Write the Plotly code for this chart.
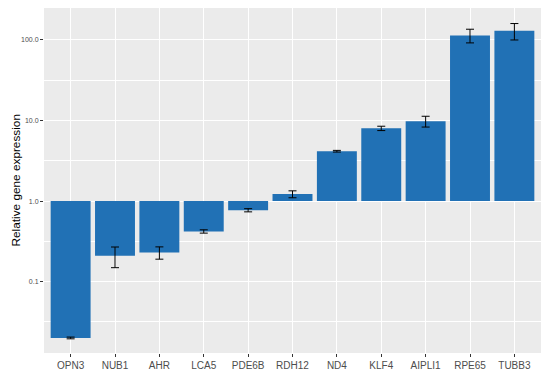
import plotly.graph_objects as go

genes = ["OPN3", "NUB1", "AHR", "LCA5", "PDE6B", "RDH12", "ND4", "KLF4", "AIPLI1", "RPE65", "TUBB3"]
expression = [0.020, 0.209, 0.23, 0.42, 0.77, 1.22, 4.16, 8.0, 9.8, 114.0, 130.0]
error = [0.0005, 0.06, 0.04, 0.02, 0.035, 0.12, 0.1, 0.5, 1.5, 22.0, 30.0]

ytick_vals = [0.1, 1, 10, 100]
ytick_text = ["0.1", "1.0", "10.0", "100.0"]
minor_vals = [10 ** -1.5, 10 ** -0.5, 10 ** 0.5, 10 ** 1.5]

base = 1.0
fig = go.Figure()
fig.add_trace(go.Bar(
    x=genes,
    y=[v - base for v in expression],
    base=base,
    marker=dict(color="#2171B5", line=dict(width=0)),
    width=0.9,
    showlegend=False,
    hoverinfo="skip",
))
fig.add_trace(go.Scatter(
    x=genes,
    y=expression,
    mode="markers",
    marker=dict(size=0.1, color="rgba(0,0,0,0)"),
    error_y=dict(type="data", array=error, visible=True, color="black", thickness=1, width=4),
    showlegend=False,
    hoverinfo="skip",
))

# page body has an 8px default margin, so the figure is offset by (8, 8)
fig.update_layout(
    width=542, height=366,
    margin=dict(l=36, r=9, t=0, b=21),
    paper_bgcolor="white",
    plot_bgcolor="#EBEBEB",
    bargap=0.1,
    font=dict(family="Liberation Sans, Arial, sans-serif", color="#4D4D4D"),
    xaxis=dict(
        type="category",
        range=[-0.6, 10.6],
        automargin=False,
        showgrid=True, gridcolor="white", gridwidth=1.1,
        ticks="outside", ticklen=3, tickcolor="#333333", tickwidth=1,
        tickfont=dict(size=10, color="#4D4D4D"),
        zeroline=False, showline=False,
    ),
    yaxis=dict(
        type="log",
        range=[-1.886, 2.397],
        automargin=False,
        tickvals=ytick_vals, ticktext=ytick_text,
        showgrid=True, gridcolor="white", gridwidth=1.1,
        minor=dict(tickvals=minor_vals, showgrid=True, gridcolor="white", gridwidth=0.5, ticks=""),
        ticks="outside", ticklen=3, tickcolor="#333333", tickwidth=1,
        tickfont=dict(size=7, color="#4D4D4D"),
        zeroline=False, showline=False,
    ),
    annotations=[dict(
        text="Relative gene expression", textangle=-90,
        xref="paper", yref="paper", x=0, y=0.5, xshift=-29,
        xanchor="center", yanchor="middle", showarrow=False,
        font=dict(size=11.8, color="black"),
    )],
)

fig.write_html("out.html")
